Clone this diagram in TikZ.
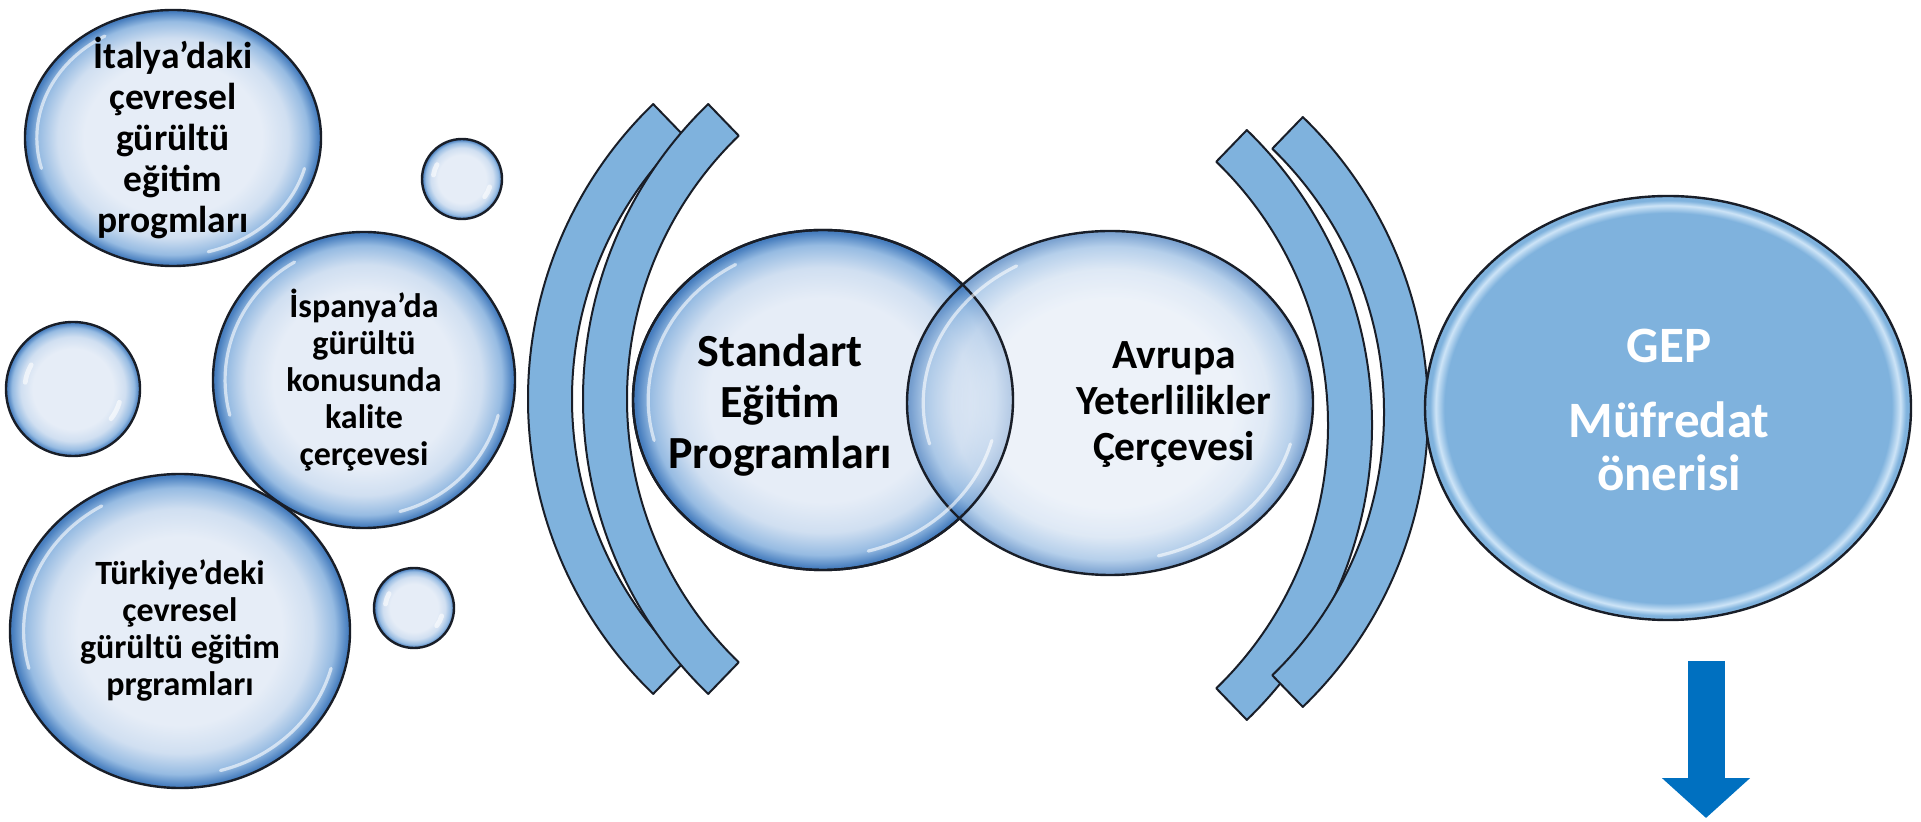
\documentclass[tikz,border=0pt]{standalone}
\usepackage{fontspec}
\setmainfont{Carlito}
\usetikzlibrary{shapes.geometric,positioning,calc,arrows.meta}

\definecolor{bubcore}{RGB}{230,237,247}
\definecolor{bubsoft}{RGB}{208,223,241}
\definecolor{bubmid}{RGB}{150,187,226}
\definecolor{bubrim}{RGB}{70,125,190}
\definecolor{arcblue}{RGB}{127,178,221}
\definecolor{geplight}{RGB}{205,228,247}
\definecolor{arrowblue}{RGB}{0,112,192}
\definecolor{rimline}{RGB}{25,30,40}

% the path edge sits at 25bp of a radial shading
\pgfdeclareradialshading{bubbleshade}{\pgfpointorigin}{%
  color(0bp)=(bubcore); color(15bp)=(bubcore); color(19.5bp)=(bubsoft);
  color(22.8bp)=(bubmid); color(24.7bp)=(bubrim); color(50bp)=(bubrim)}
\pgfdeclareradialshading{gepshade}{\pgfpointorigin}{%
  color(0bp)=(arcblue); color(23bp)=(arcblue); color(23.9bp)=(geplight);
  color(24.5bp)=(arcblue); color(50bp)=(arcblue)}

% one curved band of the brackets: centre, start angle, end angle
\newcommand{\blockarc}[3]{%
  \draw[band] ($(#1)+(#2:205pt)$) arc[start angle=#2, end angle=#3, radius=205pt]
    -- ($(#1)+(#3:183pt)$) arc[start angle=#3, end angle=#2, radius=183pt] -- cycle;}
% glossy light on a bubble: node, x radius, y radius
\newcommand{\gloss}[3]{%
  \draw[glint] ($(#1.center)+(120:{0.92*#2} and {0.92*#3})$)
    arc[start angle=120, end angle=195, x radius=0.92*#2, y radius=0.92*#3];
  \draw[glint] ($(#1.center)+(-75:{0.92*#2} and {0.92*#3})$)
    arc[start angle=-75, end angle=-15, x radius=0.92*#2, y radius=0.92*#3];}
% two light spots on a small drop: node, radius
\newcommand{\spots}[2]{%
  \draw[glint, line width=2.4pt] ($(#1.center)+(150:{0.72*#2})$)
    arc[start angle=150, end angle=172, radius=0.72*#2];
  \draw[glint, line width=2.4pt] ($(#1.center)+(-38:{0.72*#2})$)
    arc[start angle=-38, end angle=-16, radius=0.72*#2];}

\begin{document}
\begin{tikzpicture}[
            x=0.5pt, y=-0.5pt,
            bubble/.style={ellipse, draw=rimline, line width=1.2pt,
                           shading=bubbleshade, inner sep=0pt},
            drop/.style={bubble, minimum size=#1},
            rim/.style={ellipse, draw=rimline, line width=1.2pt, inner sep=0pt},
            glint/.style={white, opacity=0.6, line width=1.6pt, line cap=round},
            bubtext/.style 2 args={align=center, text=black,
                            font=\bfseries\fontsize{#1}{#2}\selectfont},
            band/.style={draw=rimline, line width=1pt, fill=arcblue, line join=round},
            gepnode/.style={ellipse, draw=rimline, line width=1.2pt,
                            shading=gepshade, inner sep=0pt},
            downarrow/.style={arrowblue, line width=18.5pt,
                              -{Triangle[width=43pt, length=20pt]}}
        ]
            \useasboundingbox (0,0) rectangle (1921,822);

            % programmes from the three countries
            \node[bubble, minimum width=148pt, minimum height=128pt] (italy) at (173,138) {};
            \node[drop=40pt] (dropa) at (462,179) {};
            \node[drop=67pt] (dropb) at (73,389) {};
            \node[bubble, minimum width=151pt, minimum height=148pt] (spain) at (364,380) {};
            \node[bubble, minimum width=170pt, minimum height=157pt] (turkey) at (180,631) {};
            \node[drop=40pt] (dropc) at (414,608) {};
            \gloss{italy}{74pt}{64pt}
            \gloss{spain}{75.5pt}{74pt}
            \gloss{turkey}{85pt}{78.5pt}
            \spots{dropa}{20pt}
            \spots{dropb}{33.5pt}
            \spots{dropc}{20pt}

            \node[bubtext={18.75}{20.5}] (italytxt) at (italy.center)
                {İtalya’daki\\çevresel\\gürültü\\eğitim\\progmları};
            \node[bubtext={17}{18.5}] (spaintxt) at (spain.center)
                {İspanya’da\\gürültü\\konusunda\\kalite\\çerçevesi};
            \node[bubtext={17}{18.5}] (turkeytxt) at (turkey.center)
                {Türkiye’deki\\çevresel\\gürültü eğitim\\prgramları};

            % left brackets
            \coordinate (lc1) at (938,399);
            \coordinate (lc2) at (993,399);
            \blockarc{lc1}{134}{226}
            \blockarc{lc2}{134}{226}

            % the two frameworks
            \node[bubble, minimum width=190pt, minimum height=170pt] (std) at (823,400) {};
            \node[bubble, minimum width=203pt, minimum height=172pt,
                  fill opacity=0.7] (eqf) at (1110,403) {};
            \node[rim, minimum width=190pt, minimum height=170pt] (stdrim) at (std.center) {};
            \gloss{std}{95pt}{85pt}
            \gloss{eqf}{101.5pt}{86pt}
            \node[bubtext={23}{25.5}] (stdtxt) at (780,405) {Standart\\Eğitim\\Programları};
            \node[bubtext={20.75}{23}] (eqftxt) at (1174,405) {Avrupa\\Yeterlilikler\\Çerçevesi};

            % right brackets
            \coordinate (rc1) at (962,425);
            \coordinate (rc2) at (1018,412);
            \blockarc{rc1}{-46}{46}
            \blockarc{rc2}{-46}{46}

            % result
            \node[gepnode, minimum width=243pt, minimum height=212pt] (gep) at (1668,408) {};
            \node[bubtext={25.5}{26.5}, text=white] (geptxt) at (1669,410)
                {GEP\\[11pt]Müfredat\\önerisi};

            \coordinate (arrtop) at (1706,661);
            \coordinate (arrtip) at (1706,818);
            \draw[downarrow] (arrtop) -- (arrtip);
        \end{tikzpicture}
\end{document}
